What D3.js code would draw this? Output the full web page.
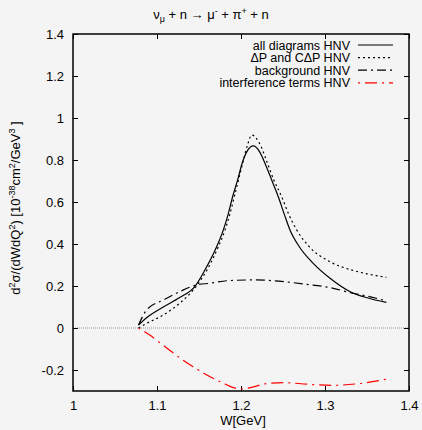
<!DOCTYPE html>
<html>
<head>
<meta charset="utf-8">
<script src="https://cdn.jsdelivr.net/npm/d3@7"></script>
<style>
  body { margin: 0; background: #f4f4f4; }
  svg { display: block; font-family: "Liberation Sans", Arial, sans-serif; }
</style>
</head>
<body>
<div id="chart"></div>
<script>
// W values and cross sections
var wAll = [1.078, 1.088, 1.1075, 1.127, 1.145, 1.157, 1.171, 1.179, 1.185, 1.190, 1.196, 1.201, 1.207, 1.2147, 1.222, 1.229, 1.2365, 1.2444, 1.2512, 1.2583, 1.2694, 1.286, 1.306, 1.33, 1.35, 1.373]
var yAll = [0.014, 0.05, 0.10, 0.145, 0.197, 0.276, 0.387, 0.467, 0.546, 0.625, 0.705, 0.78, 0.84, 0.867, 0.84, 0.78, 0.705, 0.625, 0.546, 0.467, 0.387, 0.308, 0.237, 0.173, 0.144, 0.122]

var wDelta = [1.078, 1.0877, 1.1075, 1.127, 1.147, 1.16, 1.173, 1.181, 1.187, 1.192, 1.197, 1.203, 1.208, 1.2127, 1.222, 1.231, 1.239, 1.2485, 1.2563, 1.2663, 1.2813, 1.306, 1.33, 1.35, 1.373]
var yDelta = [0.0, 0.022, 0.062, 0.118, 0.2, 0.28, 0.387, 0.467, 0.546, 0.625, 0.705, 0.8, 0.875, 0.919, 0.88, 0.79, 0.705, 0.625, 0.546, 0.467, 0.387, 0.315, 0.278, 0.258, 0.241]

var wBack = [1.078, 1.0877, 1.1075, 1.127, 1.147, 1.163, 1.183, 1.215, 1.245, 1.274, 1.31, 1.33, 1.35, 1.373]
var yBack = [0.014, 0.086, 0.133, 0.173, 0.205, 0.213, 0.225, 0.229, 0.223, 0.21, 0.189, 0.168, 0.152, 0.129]

var wInter = [1.078, 1.09, 1.11, 1.13, 1.143, 1.16, 1.18, 1.19, 1.20, 1.21, 1.23, 1.25, 1.28, 1.31, 1.34, 1.373]
var yInter = [0.0, -0.03, -0.09, -0.15, -0.184, -0.225, -0.265, -0.283, -0.29, -0.285, -0.265, -0.26, -0.268, -0.273, -0.265, -0.244]

var xTicks = [1, 1.1, 1.2, 1.3, 1.4]
var yTicks = [-0.2, 0, 0.2, 0.4, 0.6, 0.8, 1, 1.2, 1.4]

var series = [
    { label: "all diagrams HNV", w: wAll, y: yAll, color: "#000", dash: null },
    { label: "\u0394P and C\u0394P HNV", w: wDelta, y: yDelta, color: "#000", dash: "2,3" },
    { label: "background HNV", w: wBack, y: yBack, color: "#000", dash: "9,4,2,4" },
    { label: "interference terms HNV", w: wInter, y: yInter, color: "#ff0000", dash: "2,5,12,5" }
]

var width = 422, height = 430
var mLeft = 73, mRight = 409, mTop = 34, mBottom = 391
var fs = 13, fsSmall = 9

var svg = d3.select("#chart").append("svg")
    .attr("width", width)
    .attr("height", height)

svg.append("rect").attr("width", width).attr("height", height).attr("fill", "#f4f4f4")

var x = d3.scaleLinear().domain([1, 1.4]).range([mLeft, mRight])
var y = d3.scaleLinear().domain([-0.3, 1.4]).range([mBottom, mTop])

// zero line
svg.append("line")
    .attr("x1", mLeft).attr("x2", mRight)
    .attr("y1", y(0)).attr("y2", y(0))
    .attr("stroke", "#999").attr("stroke-width", 1)
    .attr("stroke-dasharray", "1,1")

// axes with inward ticks on all sides
var fmt = d => String(+d.toFixed(1))
svg.append("g").attr("transform", "translate(0," + mBottom + ")")
    .call(d3.axisBottom(x).tickValues(xTicks).tickSizeInner(-5).tickSizeOuter(0).tickPadding(10).tickFormat(fmt))
svg.append("g").attr("transform", "translate(0," + mTop + ")")
    .call(d3.axisTop(x).tickValues(xTicks).tickSizeInner(-5).tickSizeOuter(0).tickFormat(""))
svg.append("g").attr("transform", "translate(" + mLeft + ",0)")
    .call(d3.axisLeft(y).tickValues(yTicks).tickSizeInner(-5).tickSizeOuter(0).tickPadding(9).tickFormat(fmt))
svg.append("g").attr("transform", "translate(" + mRight + ",0)")
    .call(d3.axisRight(y).tickValues(yTicks).tickSizeInner(-5).tickSizeOuter(0).tickFormat(""))

svg.selectAll(".domain").remove()
svg.selectAll(".tick line").attr("stroke", "#000").attr("stroke-width", 1)
svg.selectAll(".tick text").attr("font-size", fs).attr("fill", "#000")
    .attr("font-family", "Liberation Sans, Arial, sans-serif")

svg.append("rect")
    .attr("x", mLeft).attr("y", mTop)
    .attr("width", mRight - mLeft).attr("height", mBottom - mTop)
    .attr("fill", "none").attr("stroke", "#000").attr("stroke-width", 1.5)

var line = d3.line()
    .x(d => x(d[0]))
    .y(d => y(d[1]))
    .curve(d3.curveMonotoneX)

series.forEach(s => {
    svg.append("path")
        .datum(s.w.map((w, i) => [w, s.y[i]]))
        .attr("fill", "none")
        .attr("stroke", s.color)
        .attr("stroke-width", 1.2)
        .attr("stroke-dasharray", s.dash)
        .attr("d", line)
})

// legend
var legend = svg.append("g")
series.forEach((s, i) => {
    var ly = 45 + i * 12.6
    legend.append("text")
        .attr("x", 350).attr("y", ly + 4.5)
        .attr("text-anchor", "end")
        .attr("font-size", 12.5)
        .text(s.label)
    legend.append("line")
        .attr("x1", 358).attr("x2", 393)
        .attr("y1", ly).attr("y2", ly)
        .attr("stroke", s.color).attr("stroke-width", 1.2)
        .attr("stroke-dasharray", s.dash)
})

// title
var title = svg.append("text")
    .attr("x", 211).attr("y", 19)
    .attr("text-anchor", "middle")
    .attr("font-size", fs)
title.append("tspan").text("\u03bd")
title.append("tspan").attr("dy", 3).attr("font-size", fsSmall).text("\u03bc")
title.append("tspan").attr("dy", -3).text(" + n \u2192 \u03bc")
title.append("tspan").attr("dy", -5).attr("font-size", fsSmall).text("-")
title.append("tspan").attr("dy", 5).text(" + \u03c0")
title.append("tspan").attr("dy", -5).attr("font-size", fsSmall).text("+")
title.append("tspan").attr("dy", 5).text(" + n")

// x label
svg.append("text")
    .attr("x", 243).attr("y", 425)
    .attr("text-anchor", "middle")
    .attr("font-size", fs)
    .text("W[GeV]")

// y label
var yl = svg.append("text")
    .attr("transform", "translate(20,208) rotate(-90)")
    .attr("text-anchor", "middle")
    .attr("font-size", fs)
yl.append("tspan").text("d")
yl.append("tspan").attr("dy", -5).attr("font-size", fsSmall).text("2")
yl.append("tspan").attr("dy", 5).text("\u03c3/(dWdQ")
yl.append("tspan").attr("dy", -5).attr("font-size", fsSmall).text("2")
yl.append("tspan").attr("dy", 5).text(")  [10")
yl.append("tspan").attr("dy", -5).attr("font-size", fsSmall).text("-38")
yl.append("tspan").attr("dy", 5).text("cm")
yl.append("tspan").attr("dy", -5).attr("font-size", fsSmall).text("2")
yl.append("tspan").attr("dy", 5).text("/GeV")
yl.append("tspan").attr("dy", -5).attr("font-size", fsSmall).text("3")
yl.append("tspan").attr("dy", 5).text(" ]")
</script>
</body>
</html>
